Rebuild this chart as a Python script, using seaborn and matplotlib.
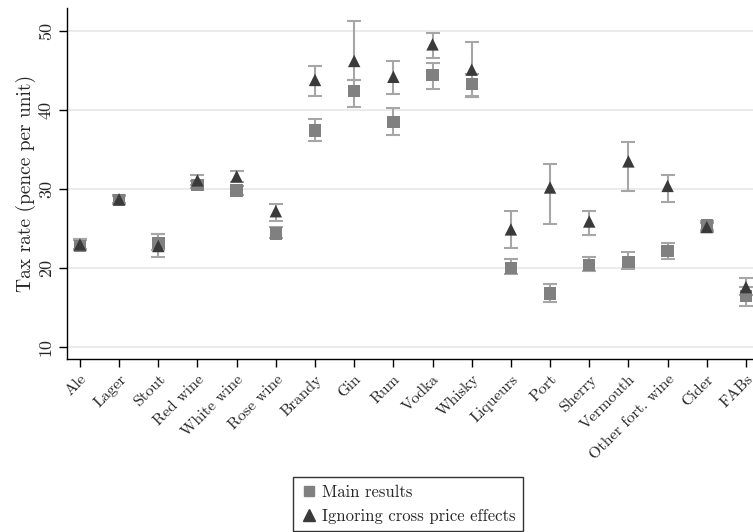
import numpy as np
import pandas as pd
import matplotlib
matplotlib.use("Agg")
import matplotlib.pyplot as plt
import seaborn as sns

# drinks and estimated tax rates (pence per unit)
categories = ["Ale", "Lager", "Stout", "Red wine", "White wine", "Rose wine", "Brandy", "Gin",
              "Rum", "Vodka", "Whisky", "Liqueurs", "Port", "Sherry", "Vermouth",
              "Other fort. wine", "Cider", "FABs"]

main_rate = [22.8, 28.6, 23.2, 30.5, 29.8, 24.4, 37.4, 42.4, 38.5, 44.4, 43.3, 20.0, 16.8, 20.4,
             20.8, 22.2, 25.4, 16.5]
main_lo = [22.3, 28.1, 22.3, 30.1, 29.2, 23.8, 36.1, 40.4, 36.9, 42.7, 41.6, 19.2, 15.7, 19.7,
           19.9, 21.1, 24.6, 15.2]
main_hi = [23.7, 29.1, 24.3, 31.0, 30.4, 25.2, 38.8, 43.8, 40.2, 45.9, 44.6, 21.1, 18.0, 21.4,
           22.1, 23.2, 26.0, 17.6]

cross_rate = [23.0, 28.7, 22.8, 31.1, 31.6, 27.2, 43.8, 46.2, 44.2, 48.3, 45.1, 24.9, 30.2, 25.9,
              33.5, 30.4, 25.2, 17.6]
cross_lo = [22.4, 28.2, 21.4, 30.5, 30.9, 26.0, 41.8, 43.8, 42.0, 46.6, 41.8, 22.5, 25.6, 24.2,
            29.7, 28.4, 24.8, 16.6]
cross_hi = [23.6, 29.2, 24.3, 31.8, 32.3, 28.1, 45.6, 51.3, 46.2, 49.7, 48.6, 27.2, 33.2, 27.2,
            35.9, 31.8, 25.7, 18.7]

yticks = [10, 20, 30, 40, 50]

sns.set_style("white")
plt.rcParams["font.family"] = ["cmr10", "DejaVu Serif"]
plt.rcParams["axes.formatter.use_mathtext"] = True

pos = np.arange(len(categories))
df = pd.DataFrame({
    "x": np.concatenate([pos, pos]),
    "rate": main_rate + cross_rate,
    "series": ["Main results"] * len(pos) + ["Ignoring cross price effects"] * len(pos),
})

fig = plt.figure(figsize=(7.53, 5.32), dpi=100)
ax = fig.add_axes([0.089, 0.325, 0.911, 0.66])

for r, lo, hi in [(main_rate, main_lo, main_hi), (cross_rate, cross_lo, cross_hi)]:
    r = np.array(r)
    err = [r - np.array(lo), np.array(hi) - r]
    ax.errorbar(pos, r, yerr=err, fmt="none", ecolor="#a6a6a6", elinewidth=1.5,
                capsize=5, capthick=1.5, zorder=2)

sns.scatterplot(data=df, x="x", y="rate", hue="series", style="series",
                palette={"Main results": "#808080", "Ignoring cross price effects": "#3a3a3a"},
                markers={"Main results": "s", "Ignoring cross price effects": "^"},
                s=80, linewidth=0, ax=ax, zorder=3, legend=False)

ax.set_xlim(-0.33, 17.18)
ax.set_ylim(8.5, 52.9)
ax.set_yticks(yticks)
ax.set_yticklabels([str(t) for t in yticks], rotation=90, va="center", fontsize=13)
ax.set_xticks(pos)
ax.set_xticklabels(categories, rotation=45, ha="right", rotation_mode="anchor", fontsize=11.5)
ax.tick_params(axis="both", direction="out", length=6, width=1, color="black",
               left=True, bottom=True)
ax.set_xlabel("")
ax.set_ylabel("Tax rate (pence per unit)", fontsize=14, labelpad=2)
ax.grid(axis="y", color="#e8e8e8", linewidth=1.2)
ax.set_axisbelow(True)
sns.despine(ax=ax)
for s in ["left", "bottom"]:
    ax.spines[s].set_color("black")
    ax.spines[s].set_linewidth(1)

handles = [
    plt.Line2D([], [], marker="s", color="#808080", linestyle="none", markersize=7),
    plt.Line2D([], [], marker="^", color="#3a3a3a", linestyle="none", markersize=8),
]
leg = fig.legend(handles, ["Main results", "Ignoring cross price effects"],
                 loc="upper center", bbox_to_anchor=(0.542, 0.103), fontsize=12,
                 frameon=True, fancybox=False, edgecolor="black", handletextpad=0.3,
                 handlelength=1.0, borderpad=0.45, labelspacing=0.5, borderaxespad=0)
leg.get_frame().set_linewidth(1)

fig.savefig("out.png", dpi=100)
